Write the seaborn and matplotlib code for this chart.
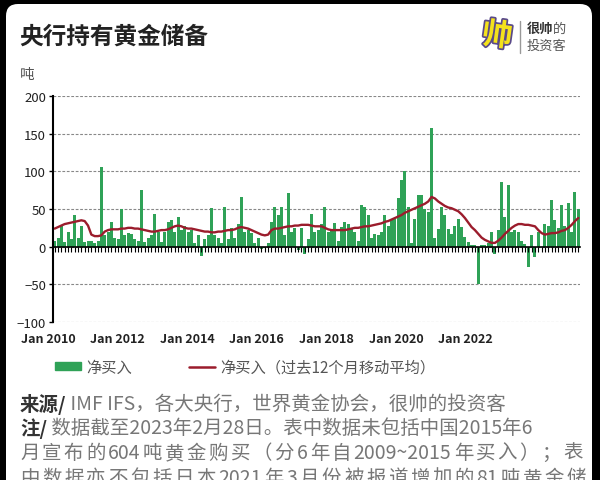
import re
import numpy as np
import pandas as pd
import matplotlib.pyplot as plt
import matplotlib.patheffects as pe
import matplotlib.transforms as mtransforms
from matplotlib.patches import FancyBboxPatch, Patch
from matplotlib.lines import Line2D
import seaborn as sns

# monthly central bank net purchases (tonnes), Jan 2010 - Feb 2023
net_buy = [8, 12, 28, 6, 20, 10, 42, 12, 28, 6,
           8, 8, 5, 7, 106, 15, 20, 33, 12, 10,
           50, 15, 18, 17, 10, 8, 75, 6, 12, 15,
           44, 20, 6, 20, 33, 36, 20, 40, 22, 28,
           20, 22, 5, 15, -12, 10, 15, 51, 15, 12,
           5, 53, 10, 25, 12, 30, 66, 20, 22, 18,
           5, 12, -3, -2, 5, 33, 53, 42, 53, 15,
           71, 20, 25, -5, 25, -10, 10, 43, 20, 22,
           30, 52, 20, 22, 32, 8, 26, 33, 30, 25,
           20, 8, 55, 53, 42, 12, 17, 15, 20, 42,
           28, 37, 37, 64, 88, 100, 53, 5, 37, 69,
           69, 50, 46, 158, 11, 24, 53, 42, 24, 17,
           28, 37, 26, 13, 6, 2, 2, -50, 2, 2,
           5, 20, -10, 22, 86, 40, 82, 20, 22, 20,
           8, 3, -27, 15, -14, 20, 0, 30, 28, 62,
           35, 25, 55, 28, 58, 20, 72, 50]

# 12-month moving average as drawn on the chart
ma_12m = [24, 26, 28, 30, 31, 32, 33, 34, 35, 34,
          28, 16, 14, 14, 15, 20, 22, 23, 23, 23,
          24, 24, 25, 25, 24, 24, 23, 22, 21, 20,
          20, 21, 22, 22, 23, 25, 27, 28, 27, 25,
          24, 24, 23, 22, 21, 20, 20, 19, 19, 20,
          20, 21, 22, 22, 23, 25, 26, 25, 24, 22,
          20, 18, 16, 15, 16, 22, 24, 24, 25, 26,
          27, 27, 28, 28, 29, 29, 29, 28, 27, 27,
          27, 25, 23, 22, 22, 22, 22, 22, 23, 24,
          25, 25, 26, 27, 27, 28, 29, 30, 31, 33,
          34, 36, 38, 40, 42, 45, 47, 49, 51, 53,
          55, 57, 60, 66, 64, 60, 57, 54, 52, 51,
          49, 47, 43, 38, 32, 26, 22, 17, 12, 9,
          7, 5, 5, 8, 12, 17, 21, 25, 28, 30,
          30, 29, 29, 28, 27, 22, 18, 16, 17, 18,
          18, 19, 21, 22, 25, 29, 34, 38]

x_labels = ["Jan 2010", "Jan 2012", "Jan 2014", "Jan 2016",
            "Jan 2018", "Jan 2020", "Jan 2022"]
y_ticks = [-100, -50, 0, 50, 100, 150, 200]
legend_labels = ["净买入", "净买入（过去12个月移动平均）"]

df = pd.DataFrame({"month": np.arange(len(net_buy)), "net": net_buy, "ma": ma_12m})

green = "#2fa257"
red = "#9b1c2c"

sns.set_style("white")
plt.rcParams['font.family'] = ['Noto Sans CJK SC', 'DejaVu Sans']

fig = plt.figure(figsize=(6, 4.81), dpi=100, facecolor="black")
renderer = fig.canvas.get_renderer()

# background card in pixel coordinates
bg = fig.add_axes([0, 0, 1, 1], zorder=0)
bg.set_xlim(0, 600)
bg.set_ylim(481, 0)
bg.axis("off")
bg.add_patch(FancyBboxPatch((6, 5), 586, 520, boxstyle="round,pad=0,rounding_size=12",
                            fc="white", ec="none"))

bg.text(19, 37, "央行持有黄金储备", fontsize=17, fontweight="bold", color="#222", va="center")
bg.text(20, 75, "吨", fontsize=10.5, color="#555", va="center")

# logo
logo = bg.text(497, 37, "帅", fontsize=22, fontweight="bold", color="#f4e21c", va="center",
               ha="center", rotation=-8)
logo.set_path_effects([pe.withStroke(linewidth=2.5, foreground="#5a4a8a")])
bg.plot([520, 520], [22, 54], color="#999", lw=1)
bg.text(527, 29, "很帅", fontsize=9.5, fontweight="bold", color="#333", va="center")
bg.text(553, 29, "的", fontsize=9.5, color="#555", va="center")
bg.text(527, 46, "投资客", fontsize=9.5, color="#555", va="center")


# footer: wrapped paragraph lines are justified to the card width
def justify(y, text, x0=20, x1=583, size=14, color="#777"):
    tokens = re.findall(r"[\x21-\x7e]+|.", text)
    widths = []
    for tok in tokens:
        t = bg.text(0, 0, tok, fontsize=size)
        widths.append(t.get_window_extent(renderer).width)
        t.remove()
    gap = (x1 - x0 - sum(widths)) / (len(tokens) - 1)
    x = x0
    for tok, wd in zip(tokens, widths):
        bg.text(x, y, tok, fontsize=size, color=color, va="baseline")
        x += wd + gap


dark, grey = "#333", "#777"
t = bg.text(20, 411, "来源/", fontsize=14, fontweight="bold", color=dark, va="baseline")
bg.annotate(" IMF IFS，各大央行，世界黄金协会，很帅的投资客", xy=(1, 0), xycoords=t,
            va="bottom", fontsize=14, color=grey)
t = bg.text(20, 435, "注/", fontsize=14, fontweight="bold", color=dark, va="baseline")
bg.annotate(" 数据截至2023年2月28日。表中数据未包括中国2015年6", xy=(1, 0), xycoords=t,
            va="bottom", fontsize=14, color=grey)
justify(459, "月宣布的604吨黄金购买（分6年自2009~2015年买入）；表")
justify(484, "中数据亦不包括日本2021年3月份被报道增加的81吨黄金储", x1=586)

# main chart
top, bottom = 97, 323
ax = fig.add_axes([53 / 600, 1 - bottom / 481, (580 - 53) / 600, (bottom - top) / 481], zorder=1)
ax.patch.set_alpha(0)

sns.barplot(data=df, x="month", y="net", color=green, saturation=1, width=0.9,
            edgecolor="none", ax=ax)
sns.lineplot(data=df, x="month", y="ma", color=red, lw=1.7, ax=ax)

ax.set_xlim(-0.5, len(net_buy) - 0.5)
ax.set_ylim(-100, 200)
ax.set_yticks(y_ticks)
ax.yaxis.grid(True, ls=(0, (2.5, 1.5)), color="#888", lw=0.8)
ax.set_axisbelow(True)
ax.set_xlabel("")
ax.set_ylabel("")
for s in ["top", "right", "bottom"]:
    ax.spines[s].set_visible(False)
ax.spines["left"].set_color("black")
ax.spines["left"].set_linewidth(1.5)
ax.tick_params(axis="y", length=3, width=1, color="black", labelsize=9.5,
               labelcolor="#222", pad=2, left=True)

# date labels (the original chart spaces them a little tighter than the bars)
ax.set_xticks([])
trans = mtransforms.blended_transform_factory(ax.transData, ax.transAxes)
for k, lab in enumerate(x_labels):
    ax.text(-2.0 + 20.87 * k, -0.075, lab, transform=trans, ha="center", va="center",
            fontsize=9, fontweight="bold", color="#222", clip_on=False)

# zero line with monthly ticks
ymin, ymax = ax.get_ylim()
sec = ax.secondary_xaxis((0 - ymin) / (ymax - ymin))
sec.set_xticks(np.arange(len(net_buy)))
sec.tick_params(length=3.5, width=0.8, color="black", labelbottom=False)
sec.spines["bottom"].set_color("black")
sec.spines["bottom"].set_linewidth(1.2)
sec.set_zorder(1.5)

handles = [Patch(color=green), Line2D([], [], color=red, lw=1.8)]
fig.legend(handles, legend_labels, loc="center left", bbox_to_anchor=(55 / 600, 1 - 368 / 481),
           ncol=2, frameon=False, fontsize=11, handlelength=1.7, handleheight=0.5,
           handletextpad=0.35, columnspacing=3.7, labelcolor="#555", borderpad=0,
           borderaxespad=0)

fig.savefig("out.png", dpi=100, facecolor=fig.get_facecolor())
